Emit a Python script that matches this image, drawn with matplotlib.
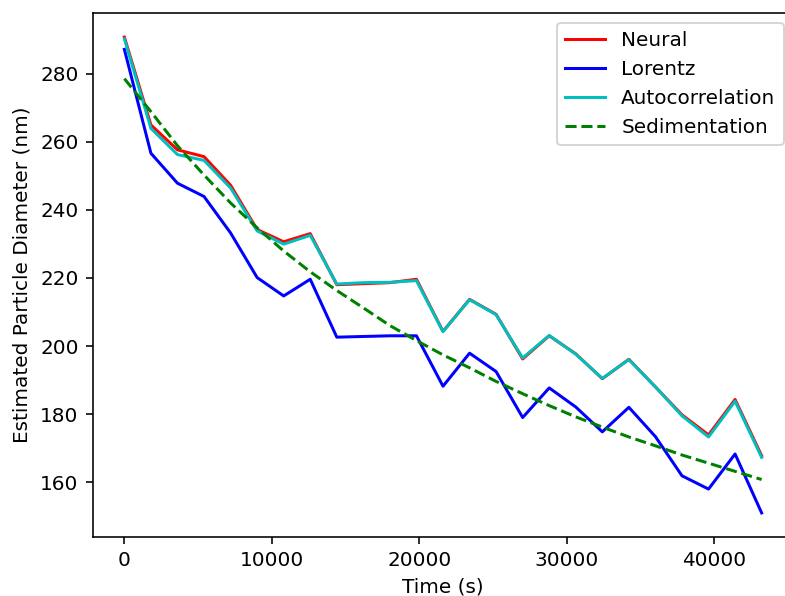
import numpy as np
import matplotlib
matplotlib.use("Agg")
import matplotlib.pyplot as plt

# sample times, every 30 minutes over 12 hours
time_s = np.arange(0, 43201, 1800)

neural = [290.7, 264.9, 257.6, 255.6, 247.2, 234.2, 230.6, 233.0, 218.0, 218.3,
          218.6, 219.6, 204.3, 213.7, 209.3, 196.2, 203.0, 197.7, 190.4, 196.1,
          188.0, 179.8, 173.9, 184.3, 167.8]
lorentz = [287.1, 256.6, 247.8, 243.9, 233.2, 220.1, 214.7, 219.6, 202.6, 202.8,
           203.0, 203.0, 188.2, 197.9, 192.5, 179.0, 187.7, 182.1, 174.8, 182.0,
           173.4, 161.9, 158.0, 168.3, 151.0]
autocorr = [290.2, 263.9, 256.2, 254.5, 246.4, 233.8, 229.9, 232.5, 218.2, 218.6,
            218.7, 219.2, 204.2, 213.6, 209.2, 196.5, 203.1, 197.6, 190.5, 196.0,
            188.0, 179.5, 173.3, 183.8, 167.3]
sedimentation = [278.5, 268.8, 258.8, 250.2, 242.0, 234.7, 227.9, 221.8, 216.3, 211.2,
                 206.0, 201.6, 197.4, 193.6, 189.6, 186.0, 182.5, 179.2, 176.2, 173.3,
                 170.7, 168.0, 165.6, 163.2, 160.8]

DPI = 144
fig = plt.figure(figsize=(785 / DPI, 596 / DPI), dpi=DPI)
# the original is cropped on the right, so the axes run past the figure edge
ax = fig.add_axes([92.5 / 785, 59.3 / 596, 701 / 785, 523.4 / 596])

ax.plot(time_s, neural, "r", label="Neural")
ax.plot(time_s, lorentz, "b", label="Lorentz")
ax.plot(time_s, autocorr, "c", label="Autocorrelation")
ax.plot(time_s, sedimentation, "g--", label="Sedimentation")

ax.set_xlabel("Time (s)")
ax.set_ylabel("Estimated Particle Diameter (nm)")
ax.legend(loc="upper right")

fig.savefig("out.png", dpi=DPI)
